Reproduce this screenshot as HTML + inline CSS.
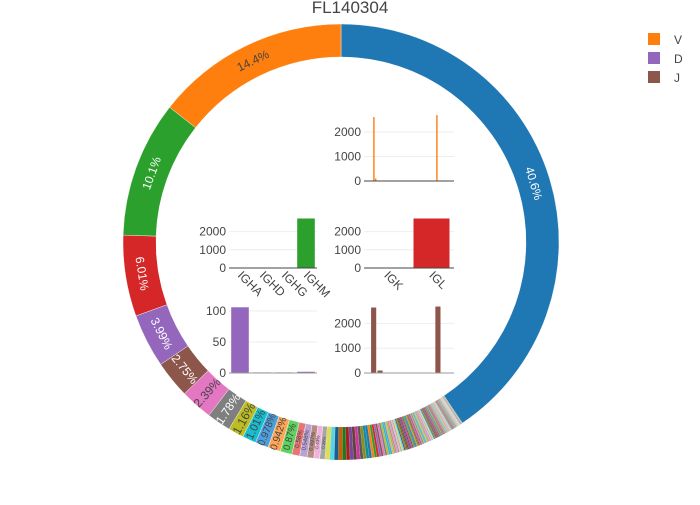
<!DOCTYPE html>
<html><head><meta charset="utf-8"><style>
body{margin:0;background:#fff}
svg{font-family:"Liberation Sans",sans-serif}
</style></head><body>
<svg id="c" width="700" height="500">
<rect width="700" height="500" fill="#fff"/>
<text x="350" y="13" text-anchor="middle" font-size="17" fill="#444">FL140304</text>
<g id="pie"></g>
<g id="bars"></g>
<g>
<g><rect x="648" y="33" width="12" height="12" fill="#ff7f0e"/><text x="674" y="44" font-size="12" fill="#444">V</text></g>
<g><rect x="648" y="52" width="12" height="12" fill="#9467bd"/><text x="674" y="63" font-size="12" fill="#444">D</text></g>
<g><rect x="648" y="71" width="12" height="12" fill="#8c564b"/><text x="674" y="82" font-size="12" fill="#444">J</text></g>
</g>
</svg>
<script>
const pieValues=[40.6,14.4,10.1,6.01,3.99,2.75,2.39,1.78,1.16,1.01,0.978,0.942,0.87,0.58,0.548,0.497,0.43,0.39,
0.35,0.33,0.31,0.3,0.28,0.27,0.26,0.25,0.24,0.23,0.22,0.21,0.2,0.19,0.18,0.17,0.16,0.15,0.15,0.14,
0.13,0.13,0.12,0.12,0.11,0.11,0.1,0.1,0.1,0.09,0.09,0.09,0.09,0.09,0.09,0.09,0.09,0.09,0.09,0.09,
0.08,0.08,0.08,0.08,0.08,0.08,0.08,0.08,0.08,0.08,0.07,0.07,0.07,0.07,0.07,0.07,0.07,0.07,0.07,0.07,
0.06,0.06,0.06,0.06,0.06,0.06,0.06,0.06,0.06,0.06,0.05,0.05,0.05,0.05,0.05,0.05,0.05,0.05,0.05,0.05,
0.04,0.04,0.04,0.04,0.04,0.04,0.04,0.04,0.04,0.04,0.03,0.03,0.03,0.03,0.03,0.03,0.03,0.03,0.03,0.03,0.03,0.03,0.03,0.03,0.03,
0.02,0.02,0.02,0.02,0.02,0.02,0.02,0.02,0.02,0.02,0.02,0.02,0.02,0.02,0.02,
0.015,0.015,0.015,0.015,0.015,0.015,0.015,0.015,0.015,0.015,0.015,0.015,0.015,0.015,0.015];
const pieLabels=["40.6%","14.4%","10.1%","6.01%","3.99%","2.75%","2.39%","1.78%","1.16%","1.01%","0.978%","0.942%","0.87%","0.58%","0.548%","0.497%","0.43%","0.39%"];
const pieColors=['#1f77b4','#ff7f0e','#2ca02c','#d62728','#9467bd','#8c564b','#e377c2','#7f7f7f','#bcbd22','#17becf',
'#4c9fdc','#ffa556','#5fd35f','#e87474','#b9a2d6','#b78b81','#f0b1dc','#a6a6a6','#dcdd58','#5ad5e1',
'#185f90','#c86006','#1f7a1f','#a81e1e','#6d4a9c','#654039','#d034a0','#595959','#8d8e19','#118c98'];
const vCats=50, vValues={5:2610,6:100,40:2690};
const cCats=["IGHA","IGHD","IGHG","IGHM"], cValues=[0,0,0,2720];
const lCats=["IGK","IGL"], lValues=[10,2720];
const dCats=4, dValues=[106,1,1,2];
const jCats=14, jValues={1:2640,2:100,11:2680};

const NS="http://www.w3.org/2000/svg";
function el(t,a,p){const e=document.createElementNS(NS,t);for(const k in a)e.setAttribute(k,a[k]);p.appendChild(e);return e;}
const cx=341,cy=242,R=218,r=185,RL=201.5;
const pie=document.getElementById('pie');
const total=pieValues.reduce((a,b)=>a+b,0);
function pt(rad,deg){const a=deg*Math.PI/180;return [cx+rad*Math.sin(a),cy-rad*Math.cos(a)];}
function lum(h){const n=parseInt(h.slice(1),16);return (0.299*(n>>16)+0.587*((n>>8)&255)+0.114*(n&255))/255;}
let cur=360*pieValues[0]/total;
for(let i=0;i<pieValues.length;i++){
  const sweep=360*pieValues[i]/total;
  const a1=cur,a2=cur-sweep;
  const p1=pt(R,a1),p2=pt(R,a2),p3=pt(r,a2),p4=pt(r,a1);
  const lg=sweep>180?1:0;
  const col=pieColors[i%30];
  const path=el('path',{d:`M${p1[0]},${p1[1]}A${R},${R} 0 ${lg} 0 ${p2[0]},${p2[1]}L${p3[0]},${p3[1]}A${r},${r} 0 ${lg} 1 ${p4[0]},${p4[1]}Z`,fill:col,stroke:'#fff','stroke-width':i<18?0.4:0.1},pie);
  
  
  if(i<pieLabels.length){
    const mid=(a1+a2)/2, lab=pieLabels[i], n=lab.length;
    const arc=sweep*Math.PI/180*RL;
    const ft=Math.min(12,arc/(0.55*n)), fr=Math.min(12,arc/1.15,33/(0.55*n));
    let rot,fs;
    if(ft>=fr){fs=ft;rot=mid;}else{fs=fr;rot=mid-90;}
    rot=((rot%360)+360)%360; if(rot>90&&rot<=270)rot-=180; if(rot>270)rot-=360;
    const m=pt(RL,mid);
    const t=el('text',{x:0,y:0,'font-size':fs.toFixed(2),fill:lum(col)<0.55?'#fff':'#444','text-anchor':'middle','dominant-baseline':'central',transform:`translate(${m[0]},${m[1]}) rotate(${rot})`},pie);
    t.textContent=lab;
    
    
  }
  cur=a2;
}
const bars=document.getElementById('bars');
function chart(name,x0,x1,y0,pxPer,ticks,n,getVal,color,barFrac,cats,axisCol){
  const g=el('g',{},bars);
  
  
  const ys=v=>y0-v*pxPer;
  for(const t of ticks){
    if(t>0)el('line',{x1:x0,x2:x1,y1:ys(t),y2:ys(t),stroke:'#eee'},g);
    const tt=el('text',{x:x0-3,y:ys(t)+4,'font-size':12,fill:'#444','text-anchor':'end'},g);
    tt.textContent=t;
    
    
  }
  const band=(x1-x0)/n;
  for(let i=0;i<n;i++){
    const v=getVal(i)||0; if(v<=0)continue;
    const bw=band*barFrac;
    const b=el('rect',{x:x0+i*band+(band-bw)/2,y:ys(v),width:bw,height:v*pxPer,fill:color},g);
    
    
  }
  el('line',{x1:x0,x2:x1,y1:y0,y2:y0,stroke:axisCol,'stroke-width':1},g);
  if(cats)cats.forEach((c,i)=>{
    const cxp=x0+(i+0.5)*band;
    const t=el('text',{x:0,y:0,'font-size':12,fill:'#444',transform:`translate(${cxp-3},${y0+8}) rotate(45)`},g);
    t.textContent=c;
    
    
  });
}
chart('v-gene-chart',364,454,181,0.0245,[0,1000,2000],vCats,i=>vValues[i],'#ff7f0e',0.8,null,'#444');
chart('c-region-chart',229,317,268,0.0182,[0,1000,2000],cCats.length,i=>cValues[i],'#2ca02c',0.8,cCats,'#444');
chart('light-chain-chart',364,454,268,0.0182,[0,1000,2000],lCats.length,i=>lValues[i],'#d62728',0.8,lCats,'#444');
chart('d-gene-chart',229,317,373,0.62,[0,50,100],dCats,i=>dValues[i],'#9467bd',0.8,null,'#999');
chart('j-gene-chart',364,454,373,0.0248,[0,1000,2000],jCats,i=>jValues[i],'#8c564b',0.8,null,'#999');
</script>
</body></html>
